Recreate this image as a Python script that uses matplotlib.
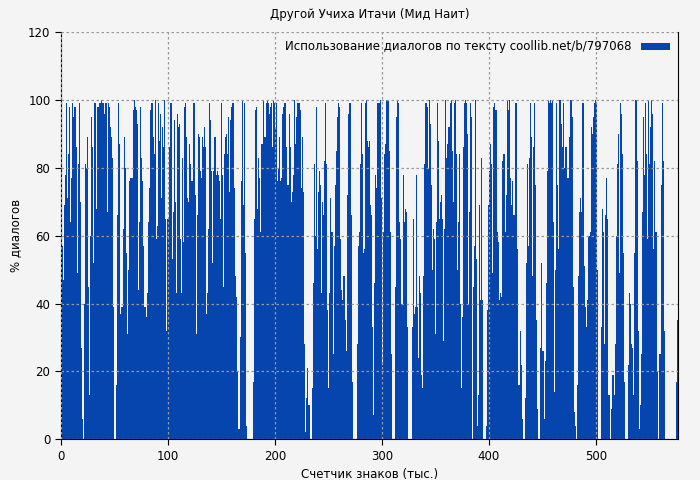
import numpy as np
import matplotlib
matplotlib.use("Agg")
import matplotlib.pyplot as plt

seg1 = [85,57,47,69,78,99,71,84,98,64,77,99,95,98,86,49,81,99,70,27,6,0,40,81,80,89,45,13,60,95,
        86,52,99,99,68,98,99,99,100,99,99,96,99,99,67,99,98,92,89,83,39,0,0,16,66,99,87,37,39,62,
        89,80,55,31,50,76,77,77,77,97,100,98,97,93,44,64,98,83,76,57,39,36,43,64,74,97,99,99,89,84,
        100,59,63,99,88,96,71,92,86,100,65,32,65,86,99,99,53,67,94,70,43,96,92,93,59,43,83,58,98,99,
        89,71,70,87,81,76,99,99,72,31,66,90,89,79,77,89,86,92,86,37,43,62,99,94,79,52,79,89,78,79]
seg2 = [78,76,65,99,78,45,84,89,90,84,95,73,94,98,99,99,74,48,42,20,3,30,76,100,69,99,55,4,0,0,
        0,0,0,0,17,65,97,98,68,83,77,61,87,100,89,89,99,100,99,96,98,99,86,100,99,92,99,76,80,89,
        76,77,96,98,99,86,75,75,96,86,70,73,78,100,87,95,99,99,99,97,74,89,73,28,2,12,21,10,0,0,
        15,46,81,60,98,56,73,79,75,43,70,66,82,99,81,38,15,43,71,61,25,57,75,85,95,99,98,59,44,41,
        48,48,35,26,72,96,99,99,66,17,0,0,0,28,57,61,81,99,84,55,56,99,100,88,86,88,69,66,33,7,46,78]
seg3 = [74,99,99,100,71,22,61,84,87,100,100,100,85,61,25,0,0,0,45,95,100,99,64,59,40,78,64,68,67,33,
        0,0,0,0,33,65,37,39,78,39,24,48,43,19,15,48,81,99,98,80,100,93,75,50,62,59,31,64,99,88,
        65,70,72,65,29,62,100,83,87,92,99,100,85,70,99,100,84,50,64,84,40,15,36,86,99,100,99,90,40,67,
        99,95,45,57,100,53,4,13,69,41,83,41,0,0,0,4,38,69,79,87,81,49,98,99,97,61,58,41,43,42,
        82,84,84,61,72,100,97,100,77,69,76,66,66,99,99,56,16,32,22,6,0,0,12,52,81]
seg4 = [57,83,99,89,48,86,99,75,35,9,0,0,27,52,26,6,23,46,79,100,99,100,99,100,64,14,50,99,75,56,
        100,100,93,86,99,80,86,77,77,89,100,100,95,45,8,4,0,16,48,67,71,67,99,99,51,39,33,41,60,61,
        92,90,95,99,100,99,50,0,0,0,33,68,61,28,66,77,65,13,13,0,9,19,13,28,60,81,90,49,99,96,
        84,55,17,0,0,0,22,43,40,28,27,13,55,100,82,32,3,10,25,67,95,78,99,84,59,100,81,92,100,96,
        56,82,61,61,20,0,25,75,99,82,32,0,0,0,0,0,0,0,0,0,0,0,17,35]

values = seg1 + seg2 + seg3 + seg4
x_max = 577
title = "Другой Учиха Итачи (Мид Наит)"
legend_label = "Использование диалогов по тексту coollib.net/b/797068"

n = len(values)
pos = np.arange(n) * x_max / n
bg = "#f4f4f4"
fig = plt.figure(figsize=(7, 4.8), dpi=100, facecolor=bg)
ax = fig.add_axes([0.087, 0.085, 0.882, 0.848], facecolor=bg)
ax.bar(pos, values, width=x_max / n, align="edge", color="#0645ad", linewidth=0, label=legend_label)
ax.set_xlim(0, x_max)
ax.set_ylim(0, 120)
ax.set_xticks([0, 100, 200, 300, 400, 500])
ax.set_yticks(range(0, 121, 20))
ax.grid(True, color="#999999", linestyle=(0, (2, 2)), linewidth=0.9)
ax.set_axisbelow(False)
for s in ["top"]:
    ax.spines[s].set_visible(False)
ax.tick_params(labelsize=8.5, length=4)
ax.set_title(title, fontsize=8.5, pad=10)
ax.set_xlabel("Счетчик знаков (тыс.)", fontsize=8.5)
ax.set_ylabel("% диалогов", fontsize=8.5)
leg = ax.legend(loc="upper right", frameon=False, fontsize=8.5, markerfirst=False,
                handlelength=2.5, handleheight=0.5, borderaxespad=0.3)
fig.savefig("out.png", dpi=100, facecolor=bg)
